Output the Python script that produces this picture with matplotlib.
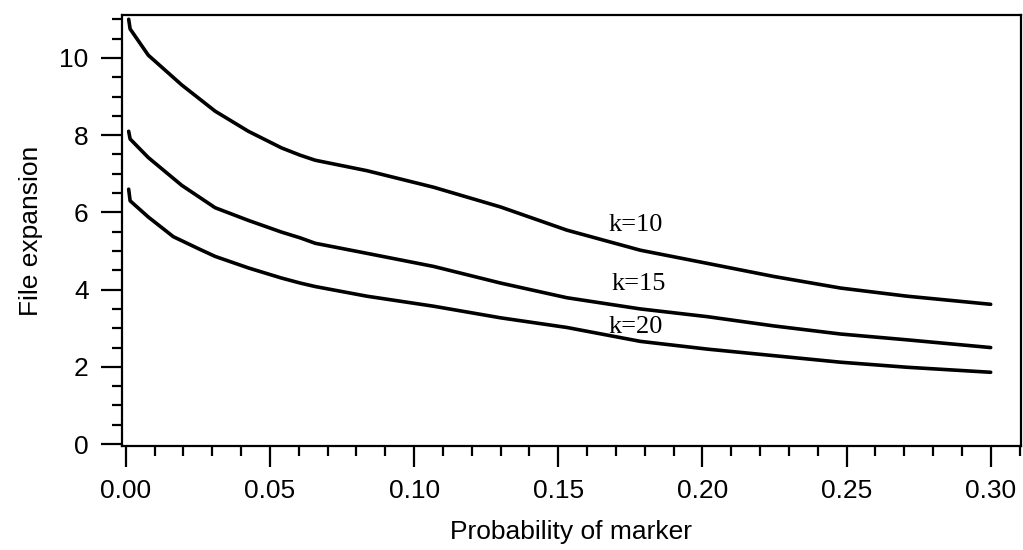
import matplotlib
matplotlib.use("Agg")
import matplotlib.pyplot as plt
from matplotlib.ticker import MultipleLocator, FormatStrFormatter

# marker probability vs. file expansion for three values of k
p10 = [0.001, 0.0015, 0.0078, 0.0194, 0.031, 0.0425, 0.054, 0.0605, 0.0657,
       0.0836, 0.1068, 0.130, 0.153, 0.1785, 0.2017, 0.2248, 0.248, 0.271, 0.300]
k10 = [11.0, 10.75, 10.07, 9.30, 8.62, 8.10, 7.67, 7.48, 7.35,
       7.08, 6.65, 6.14, 5.54, 5.02, 4.68, 4.34, 4.04, 3.83, 3.62]

p15 = [0.001, 0.0015, 0.0078, 0.0194, 0.031, 0.0426, 0.054, 0.0605, 0.0657,
       0.0836, 0.1068, 0.130, 0.153, 0.1785, 0.2017, 0.2248, 0.248, 0.271, 0.300]
k15 = [8.1, 7.9, 7.42, 6.70, 6.12, 5.79, 5.49, 5.34, 5.20,
       4.94, 4.60, 4.17, 3.79, 3.50, 3.30, 3.06, 2.85, 2.70, 2.50]

p20 = [0.001, 0.0015, 0.0078, 0.0165, 0.0252, 0.031, 0.0426, 0.054, 0.0605, 0.0657,
       0.0836, 0.1068, 0.130, 0.153, 0.1785, 0.2017, 0.2248, 0.248, 0.271, 0.300]
k20 = [6.6, 6.3, 5.88, 5.37, 5.06, 4.86, 4.56, 4.30, 4.17, 4.08,
       3.83, 3.57, 3.27, 3.02, 2.66, 2.46, 2.29, 2.12, 1.99, 1.86]

curve_labels = ["k=10", "k=15", "k=20"]
label_x = [0.177, 0.178, 0.177]
label_y = [5.67, 4.15, 3.03]

plt.rcParams['font.family'] = ['Liberation Sans', 'DejaVu Sans']

fig = plt.figure(figsize=(10.23, 5.5), dpi=100)
ax = fig.add_axes([0.1193, 0.189, 0.8787, 0.783])

for xs, ys in [(p10, k10), (p15, k15), (p20, k20)]:
    ax.plot(xs, ys, color='black', lw=2.6, solid_capstyle='round',
            solid_joinstyle='round')

for txt, tx, ty in zip(curve_labels, label_x, label_y):
    ax.text(tx, ty, txt, family='Liberation Serif', fontsize=19,
            ha='center', va='center')

ax.set_xlim(-0.0013, 0.3105)
ax.set_ylim(-0.05, 11.1)

ax.xaxis.set_major_locator(MultipleLocator(0.05))
ax.xaxis.set_minor_locator(MultipleLocator(0.01))
ax.xaxis.set_major_formatter(FormatStrFormatter('%.2f'))
ax.yaxis.set_major_locator(MultipleLocator(2))
ax.yaxis.set_minor_locator(MultipleLocator(0.5))

ax.tick_params(which='major', direction='out', length=15, width=1.6,
               labelsize=19, pad=9)
ax.tick_params(which='minor', direction='out', length=7, width=1.6)

for side in ax.spines.values():
    side.set_linewidth(1.6)

ax.set_xlabel('Probability of marker', fontsize=19, labelpad=12)
ax.set_ylabel('File expansion', fontsize=19, labelpad=12)

fig.savefig('out.png', dpi=100)
